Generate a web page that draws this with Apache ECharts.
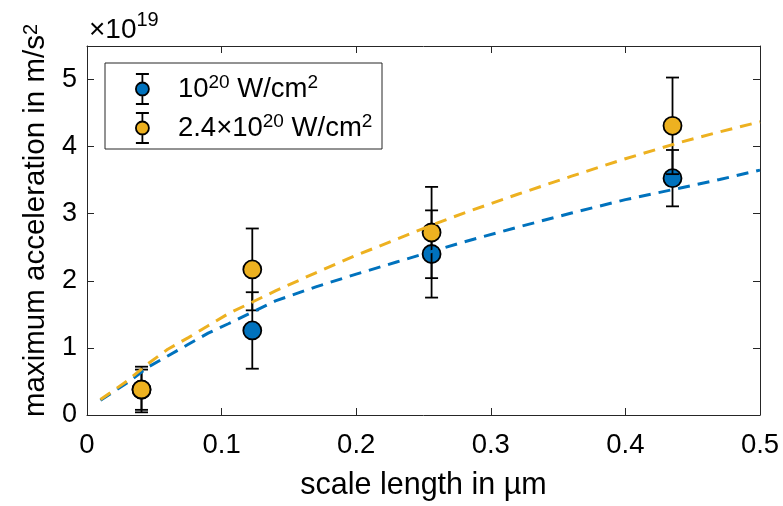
<!DOCTYPE html>
<html>
<head>
<meta charset="utf-8">
<script src="https://cdn.jsdelivr.net/npm/echarts@6/dist/echarts.min.js"></script>
<style>
  html, body { margin: 0; padding: 0; background: #fff; }
  #chart { width: 783px; height: 506px; }
</style>
</head>
<body>
<div id="chart"></div>
<script>
// Measured points: density scale length (µm)
const scaleLength = [0.0405, 0.1228, 0.256, 0.435];
// 1e20 W/cm² shots: peak acceleration (units of 1e19 m/s²) and error
const accelLow = [0.377, 1.26, 2.40, 3.53];
const errLow = [0.30, 0.57, 0.65, 0.42];
// 2.4e20 W/cm² shots
const accelHigh = [0.38, 2.17, 2.72, 4.31];
const errHigh = [0.34, 0.61, 0.68, 0.72];
// Model curves (dashed)
const modelX = [0.01, 0.03, 0.045, 0.06, 0.075, 0.09, 0.105, 0.14, 0.17, 0.2, 0.23, 0.26, 0.28, 0.32, 0.36, 0.4, 0.44, 0.47, 0.5];
const modelLow = [0.22, 0.48, 0.71, 0.88, 1.05, 1.22, 1.36, 1.70, 1.91, 2.10, 2.28, 2.46, 2.58, 2.80, 3.01, 3.21, 3.38, 3.51, 3.65];
const modelHigh = [0.23, 0.51, 0.76, 0.98, 1.15, 1.33, 1.51, 1.85, 2.12, 2.38, 2.62, 2.86, 3.01, 3.29, 3.56, 3.82, 4.06, 4.22, 4.37];
// Axis ranges
const xRange = [0, 0.5];
const yRange = [0, 5.5];

const BLUE = '#0072BD';
const YELLOW = '#EDB120';
const AXIS = '#262626';
const FONT = '"Liberation Sans", Arial, Helvetica, sans-serif';

// Marker with error-bar whiskers for the legend
const ERR_ICON = 'path://M6.5,0L6.5,8.5M0,0L13,0M6.5,21.5L6.5,30M0,30L13,30M0,15A6.5,6.5,0,1,0,13,15A6.5,6.5,0,1,0,0,15Z';

function errorBars(vals, errs) {
  return scaleLength.map((x, i) => [x, vals[i], errs[i]]);
}

function renderErrorBar(params, api) {
  const x = api.value(0);
  const y = api.value(1);
  const e = api.value(2);
  const top = api.coord([x, y + e]);
  const bot = api.coord([x, y - e]);
  const hw = 6.5;
  const style = { stroke: '#000', lineWidth: 1.8, fill: null };
  return {
    type: 'group',
    children: [
      { type: 'line', shape: { x1: top[0], y1: top[1], x2: bot[0], y2: bot[1] }, style },
      { type: 'line', shape: { x1: top[0] - hw, y1: top[1], x2: top[0] + hw, y2: top[1] }, style },
      { type: 'line', shape: { x1: bot[0] - hw, y1: bot[1], x2: bot[0] + hw, y2: bot[1] }, style }
    ]
  };
}

const legendLabels = {
  low: '10{sup|20} W/cm{sup|2}',
  high: '2.4×10{sup|20} W/cm{sup|2}'
};

const chart = echarts.init(document.getElementById('chart'), null, { renderer: 'canvas' });

const axisCommon = {
  type: 'value',
  axisLine: { show: true, onZero: false, lineStyle: { color: AXIS, width: 1 } },
  axisTick: { show: true, inside: true, length: 7, lineStyle: { color: AXIS, width: 1 } },
  splitLine: { show: false },
  minorTick: { show: false }
};

chart.setOption({
  animation: false,
  backgroundColor: '#fff',
  grid: { left: 87, right: 23, top: 46, bottom: 90, containLabel: false },
  xAxis: [
    Object.assign({}, axisCommon, {
      position: 'bottom',
      min: xRange[0], max: xRange[1], interval: 0.1,
      name: 'scale length in µm',
      nameLocation: 'middle',
      nameGap: 55,
      nameTextStyle: { fontFamily: FONT, fontSize: 30.5, color: '#000' },
      axisLabel: { margin: 16, fontFamily: FONT, fontSize: 27.5, color: '#000' }
    }),
    Object.assign({}, axisCommon, {
      position: 'top',
      min: xRange[0], max: xRange[1], interval: 0.1,
      axisLabel: { show: false }
    })
  ],
  yAxis: [
    Object.assign({}, axisCommon, {
      position: 'left',
      min: yRange[0], max: yRange[1], interval: 1,
      name: 'maximum acceleration in m/s{sup|2}',
      nameLocation: 'middle',
      nameGap: 32,
      nameTextStyle: {
        fontFamily: FONT, fontSize: 29.5, color: '#000',
        padding: [0, 0, 0, 20],
        rich: { sup: { fontSize: 20, fontFamily: FONT, color: '#000', verticalAlign: 'top' } }
      },
      axisLabel: { margin: 10, fontFamily: FONT, fontSize: 27, color: '#000', showMaxLabel: false }
    }),
    Object.assign({}, axisCommon, {
      position: 'right',
      min: yRange[0], max: yRange[1], interval: 1,
      axisLabel: { show: false }
    })
  ],
  legend: {
    orient: 'vertical',
    left: 105, top: 63,
    padding: [10, 0, 0, 30],
    itemWidth: 13, itemHeight: 30, itemGap: 7,
    selectedMode: false,
    z: 21,
    data: [
      { name: 'low', icon: ERR_ICON },
      { name: 'high', icon: ERR_ICON }
    ],
    itemStyle: { borderColor: '#000', borderWidth: 1.8 },
    formatter: name => legendLabels[name],
    textStyle: {
      fontFamily: FONT, fontSize: 27.5, color: '#000', lineHeight: 32,
      padding: [0, 0, 0, 24],
      rich: { sup: { fontSize: 19, fontFamily: FONT, color: '#000', verticalAlign: 'top', lineHeight: 32 } }
    }
  },
  graphic: [
    {
      type: 'rect', z: 20,
      shape: { x: 105, y: 63, width: 277, height: 86 },
      style: { fill: '#fff', stroke: AXIS, lineWidth: 1 }
    },
    {
      type: 'text', z: 20, left: 89, top: 10,
      style: {
        text: '×10{sup|19}',
        fontFamily: FONT, fontSize: 28, fill: '#000', lineHeight: 40,
        rich: { sup: { fontSize: 20, fontFamily: FONT, color: '#000', verticalAlign: 'top', lineHeight: 40 } }
      }
    }
  ],
  series: [
    {
      type: 'custom', name: 'lowErr', z: 2,
      renderItem: renderErrorBar,
      data: errorBars(accelLow, errLow),
      encode: { x: 0, y: 1 },
      silent: true
    },
    {
      type: 'scatter', name: 'low', z: 3,
      data: scaleLength.map((x, i) => [x, accelLow[i]]),
      symbol: 'circle', symbolSize: 18,
      itemStyle: { color: BLUE, borderColor: '#000', borderWidth: 1.8, opacity: 1 }
    },
    {
      type: 'custom', name: 'highErr', z: 4,
      renderItem: renderErrorBar,
      data: errorBars(accelHigh, errHigh),
      encode: { x: 0, y: 1 },
      silent: true
    },
    {
      type: 'scatter', name: 'high', z: 5,
      data: scaleLength.map((x, i) => [x, accelHigh[i]]),
      symbol: 'circle', symbolSize: 18,
      itemStyle: { color: YELLOW, borderColor: '#000', borderWidth: 1.8, opacity: 1 }
    },
    {
      type: 'line', name: 'lowModel', z: 6,
      data: modelX.map((x, i) => [x, modelLow[i]]),
      showSymbol: false, symbol: 'none', smooth: false,
      lineStyle: { color: BLUE, width: 3, type: [12, 8] }
    },
    {
      type: 'line', name: 'highModel', z: 6,
      data: modelX.map((x, i) => [x, modelHigh[i]]),
      showSymbol: false, symbol: 'none', smooth: false,
      lineStyle: { color: YELLOW, width: 3, type: [12, 8] }
    }
  ]
});
</script>
</body>
</html>
